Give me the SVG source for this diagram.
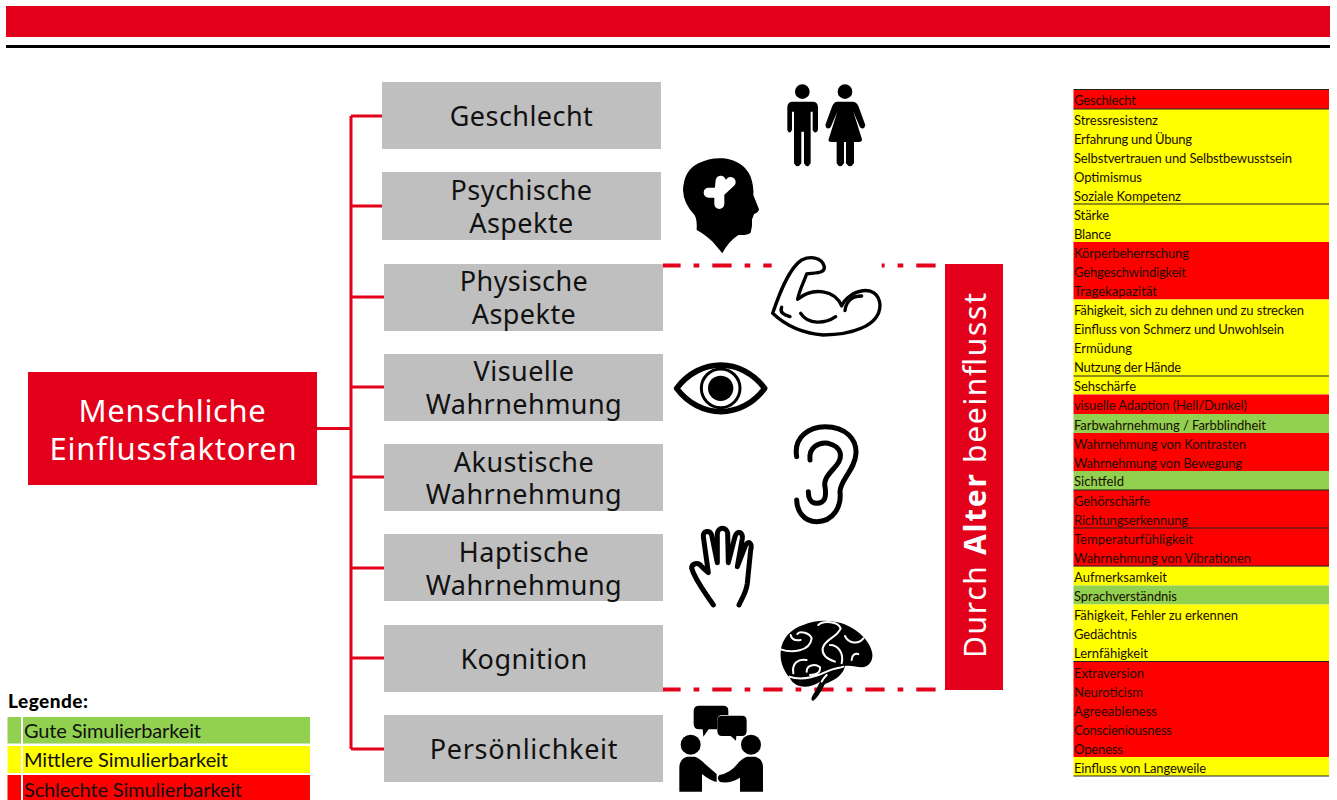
<svg xmlns="http://www.w3.org/2000/svg" width="1337" height="800" viewBox="0 0 1337 800">
<style>
.lbl{font-family:"Noto Sans","Open Sans",sans-serif;font-size:27px;fill:#111;text-anchor:middle;letter-spacing:.45px}
.box{fill:#bfbfbf}
.r{fill:#e2001a}
.conn{stroke:#e2001a;stroke-width:3;fill:none}
.dd{stroke:#e2001a;stroke-width:4;fill:none;stroke-dasharray:19.3 13 5.7 13}
.t{font-family:"Lato","Liberation Sans",sans-serif;font-size:13px;fill:#1a0d00}
.leg{font-family:"Lato","Open Sans",sans-serif;font-size:20px;fill:#111}
.ln{stroke:#222;stroke-width:1.2}
.ol{fill:none;stroke:#000;stroke-linecap:round;stroke-linejoin:round}
.sw{fill:none;stroke:#fff;stroke-width:6;stroke-linecap:round}
</style>
<rect width="1337" height="800" fill="#fff"/>
<rect x="6" y="6" width="1324" height="31" class="r"/>
<rect x="6" y="45" width="1324" height="3" fill="#000"/>

<g id="connectors">
<path class="conn" d="M317 428.500H351M351 116V749M351 116H383M351 206H383M351 297H385M351 387H385M351 477H385M351 568H385M351 658H385M351 749H385"/>
<path class="dd" stroke-dashoffset="1.700" d="M663 265.500H945"/>
<path class="dd" stroke-dashoffset="0.700" d="M662 689.500H945"/>
</g>

<g id="root"><rect x="28" y="372" width="289" height="113" class="r"/>
<text x="172.500" y="422" font-family="Noto Sans,Open Sans,sans-serif" font-size="31" fill="#fff" text-anchor="middle" letter-spacing=".6">Menschliche</text>
<text x="173.500" y="460" font-family="Noto Sans,Open Sans,sans-serif" font-size="31" fill="#fff" text-anchor="middle" letter-spacing=".8">Einflussfaktoren</text></g>

<g id="n-geschlecht"><rect class="box" x="382" y="82" width="279" height="67"/><text class="lbl" x="521.500" y="126" letter-spacing=".8">Geschlecht</text></g>
<g id="n-psychische"><rect class="box" x="382" y="172" width="279" height="68"/><text class="lbl" x="521.500" y="200">Psychische</text><text class="lbl" x="521.500" y="233">Aspekte</text></g>
<g id="n-physische"><rect class="box" x="384" y="264" width="279" height="67"/><text class="lbl" x="524" y="291">Physische</text><text class="lbl" x="524" y="324">Aspekte</text></g>
<g id="n-visuelle"><rect class="box" x="384" y="354" width="279" height="67"/><text class="lbl" x="524" y="381">Visuelle</text><text class="lbl" x="524" y="414">Wahrnehmung</text></g>
<g id="n-akustische"><rect class="box" x="384" y="444" width="279" height="67"/><text class="lbl" x="524" y="472">Akustische</text><text class="lbl" x="524" y="504">Wahrnehmung</text></g>
<g id="n-haptische"><rect class="box" x="384" y="534" width="279" height="67"/><text class="lbl" x="524" y="562">Haptische</text><text class="lbl" x="524" y="595">Wahrnehmung</text></g>
<g id="n-kognition"><rect class="box" x="384" y="625" width="279" height="67"/><text class="lbl" x="524" y="669">Kognition</text></g>
<g id="n-persoenlichkeit"><rect class="box" x="384" y="715" width="279" height="67"/><text class="lbl" x="524" y="759" style="letter-spacing:.7px">Persönlichkeit</text></g>

<g id="n-alter"><rect x="945" y="264" width="58" height="426" class="r"/>
<text transform="translate(986 658) rotate(-90)" font-family="Noto Sans,Open Sans,sans-serif" font-size="30" fill="#fff" textLength="365">Durch <tspan font-weight="700">Alter</tspan> beeinflusst</text></g>

<g id="icon-gender" transform="translate(660 70) scale(.3333)">
<circle cx="427" cy="65" r="22"/><circle cx="555" cy="65" r="22"/>
<path d="M398 95H458Q474 95 474 112V180Q466 195 458 180V125H452V280Q442 298 432 280V185H424V280Q412 298 402 280V125H396V180Q388 195 382 180V112Q382 95 398 95Z"/>
<path d="M532 95H578Q590 95 596 110L616 165Q612 182 600 172L580 125 606 208Q606 216 598 216H582V280Q570 298 558 280V216H552V280Q540 298 530 280V216H514Q504 216 506 208L532 125 512 172Q500 182 496 165L516 110Q522 95 532 95Z"/>
</g>

<g id="icon-head" transform="translate(660 70) scale(.3333)">
<path d="M187 550L158 515Q130 490 110 480Q112 450 104 436Q70 400 69 360Q72 300 115 280Q150 262 190 265Q250 272 272 320Q282 350 280 375L297 418Q296 428 282 432Q280 440 276 448Q278 470 272 488Q262 497 235 495Q205 515 187 550Z"/>
<path d="M146 368H178V402M178 368L182 332M178 368L212 336" fill="none" stroke="#fff" stroke-width="30" stroke-linecap="round" stroke-linejoin="round"/>
</g>

<g id="icon-arm" transform="translate(660 70) scale(.3333)">
<rect x="335" y="510" width="330" height="120" fill="#fff"/>
<path class="ol" stroke-width="10" style="fill:#fff" d="M338 730C355 680 385 595 425 570C450 558 485 560 493 590C495 610 470 608 440 612C430 640 418 660 413 688C460 650 525 660 545 708C565 660 655 635 660 705C660 770 570 795 490 795C420 790 375 765 338 730Z"/>
<path class="ol" stroke-width="10" d="M365 712C358 728 372 735 390 740M422 730C445 765 495 762 527 740M555 722C558 695 575 678 605 678"/>
</g>

<g id="icon-eye" transform="translate(660 350) scale(.3333)">
<path class="ol" stroke-width="17" d="M50 115C120 22 245 22 314 115C245 208 120 208 50 115Z"/>
<circle cx="182" cy="115" r="58" fill="none" stroke="#000" stroke-width="9"/>
<circle cx="182" cy="115" r="38"/>
</g>

<g id="icon-ear" transform="translate(660 350) scale(.3333)">
<path class="ol" stroke-width="15" d="M410 320C400 260 450 230 495 230C560 230 590 270 588 310C585 360 540 390 540 425C545 470 520 515 470 515C430 515 410 480 410 450"/>
<path class="ol" stroke-width="15" d="M450 330C445 290 480 275 505 280C545 290 550 320 530 345C510 370 490 385 495 410C500 440 495 460 470 460C450 460 445 440 445 425"/>
</g>

<g id="icon-hand" transform="translate(660 350) scale(.3333)">
<path class="ol" stroke-width="15" d="M160 765C130 720 105 690 95 655C95 640 115 635 125 650L145 668L130 560C128 540 150 540 155 555L172 638L172 550C175 530 200 530 203 550L205 638L225 560C230 540 250 545 247 565L232 650L257 585C265 570 278 580 272 600L262 700C258 730 245 745 237 765"/>
</g>

<g id="icon-brain" transform="translate(660 610) scale(.3333)">
<path d="M362 125C365 85 395 55 430 45C470 28 510 30 545 40C590 55 630 90 637 130C640 155 625 172 605 172C590 172 575 165 555 168C550 195 525 210 495 222C485 240 475 262 460 272C450 272 455 258 465 245C470 235 475 225 480 215C445 238 405 235 390 205C370 180 360 155 362 125Z"/>
<path class="sw" d="M362 118C395 130 450 125 455 85C450 70 420 60 412 72M392 75C395 90 410 92 422 90M475 45C490 30 535 35 542 55C530 85 495 85 488 115C485 140 510 150 525 155M510 105C535 105 552 130 545 160M555 78C565 100 595 105 610 85M575 150C575 135 585 130 595 132M440 150C415 145 395 160 400 190M440 185C440 165 465 160 480 172C482 190 465 195 450 195M388 200C430 215 480 195 500 185C520 175 535 175 550 170M485 215C490 205 495 200 500 195"/>
</g>

<g id="icon-people" transform="translate(660 610) scale(.3333)">
<path d="M118 287H190Q205 287 205 302V315H185Q172 316 172 330V358H146L130 380 128 358H118Q101 358 101 342V303Q101 287 118 287Z"/>
<path d="M186 317H246Q260 317 260 332V362Q260 378 246 378H229L228 392 212 378H186Q172 378 172 362V332Q172 317 186 317Z"/>
<circle cx="92" cy="404" r="30"/><circle cx="273" cy="404" r="30"/>
<path d="M82 440H104Q120 445 135 462L170 492V516Q150 512 126 492V545H58V470Q60 445 82 440Z"/>
<path d="M262 440H285Q308 445 309 470V545H240V503Q210 522 180 516Q168 505 178 495Q210 490 232 462Q245 445 262 440Z"/>
</g>

<g id="table">
<rect x="1073.500" y="90" width="255.500" height="19" fill="#ff0000"/>
<rect x="1073.500" y="109" width="255.500" height="133" fill="#ffff00"/>
<rect x="1073.500" y="242" width="255.500" height="57.500" fill="#ff0000"/>
<rect x="1073.500" y="299.500" width="255.500" height="95" fill="#ffff00"/>
<rect x="1073.500" y="394.500" width="255.500" height="19.500" fill="#ff0000"/>
<rect x="1073.500" y="414" width="255.500" height="19" fill="#92d050"/>
<rect x="1073.500" y="433" width="255.500" height="38" fill="#ff0000"/>
<rect x="1073.500" y="471" width="255.500" height="19" fill="#92d050"/>
<rect x="1073.500" y="490" width="255.500" height="76.500" fill="#ff0000"/>
<rect x="1073.500" y="566.500" width="255.500" height="19" fill="#ffff00"/>
<rect x="1073.500" y="585.500" width="255.500" height="19" fill="#92d050"/>
<rect x="1073.500" y="604.500" width="255.500" height="57" fill="#ffff00"/>
<rect x="1073.500" y="661.500" width="255.500" height="95.500" fill="#ff0000"/>
<rect x="1073.500" y="757" width="255.500" height="19" fill="#ffff00"/>
<path class="ln" d="M1073.500 89.500H1329M1073.500 109H1329M1073.500 204H1329M1073.500 376H1329M1073.500 490H1329M1073.500 528H1329M1073.500 566H1329M1073.500 661.500H1329M1073.500 776H1329"/>
<g class="t">
<text x="1074" y="105" textLength="62">Geschlecht</text>
<text x="1074" y="124.500" textLength="84">Stressresistenz</text>
<text x="1074" y="143.500" textLength="118">Erfahrung und Übung</text>
<text x="1074" y="162.500" textLength="218">Selbstvertrauen und Selbstbewusstsein</text>
<text x="1074" y="181.500" textLength="68">Optimismus</text>
<text x="1074" y="200.500" textLength="107">Soziale Kompetenz</text>
<text x="1074" y="219.500" textLength="35">Stärke</text>
<text x="1074" y="239" textLength="37">Blance</text>
<text x="1074" y="258" textLength="115">Körperbeherrschung</text>
<text x="1074" y="277" textLength="112">Gehgeschwindigkeit</text>
<text x="1074" y="296" textLength="83">Tragekapazität</text>
<text x="1074" y="315" textLength="230">Fähigkeit, sich zu dehnen und zu strecken</text>
<text x="1074" y="334" textLength="210">Einfluss von Schmerz und Unwohlsein</text>
<text x="1074" y="353" textLength="58">Ermüdung</text>
<text x="1074" y="372" textLength="107">Nutzung der Hände</text>
<text x="1074" y="391" textLength="62">Sehschärfe</text>
<text x="1074" y="410" textLength="173">visuelle Adaption (Hell/Dunkel)</text>
<text x="1074" y="429.500" textLength="192">Farbwahrnehmung / Farbblindheit</text>
<text x="1074" y="448.500" textLength="172">Wahrnehmung von Kontrasten</text>
<text x="1074" y="467.500" textLength="168">Wahrnehmung von Bewegung</text>
<text x="1074" y="486" textLength="50">Sichtfeld</text>
<text x="1074" y="505.500" textLength="76">Gehörschärfe</text>
<text x="1074" y="524.500" textLength="114">Richtungserkennung</text>
<text x="1074" y="544" textLength="119">Temperaturfühligkeit</text>
<text x="1074" y="563" textLength="177">Wahrnehmung von Vibrationen</text>
<text x="1074" y="582" textLength="93">Aufmerksamkeit</text>
<text x="1074" y="601" textLength="103">Sprachverständnis</text>
<text x="1074" y="620" textLength="164">Fähigkeit, Fehler zu erkennen</text>
<text x="1074" y="639" textLength="63">Gedächtnis</text>
<text x="1074" y="658" textLength="74">Lernfähigkeit</text>
<text x="1074" y="677.500" textLength="70">Extraversion</text>
<text x="1074" y="696.500" textLength="69">Neuroticism</text>
<text x="1074" y="715.500" textLength="83">Agreeableness</text>
<text x="1074" y="734.500" textLength="98">Conscieniousness</text>
<text x="1074" y="753.500" textLength="49">Openess</text>
<text x="1074" y="772.500" textLength="132">Einfluss von Langeweile</text>
</g>
</g>

<g id="legend">
<text x="8" y="708" font-family="Lato,sans-serif" font-size="19" font-weight="900" fill="#000" textLength="80">Legende:</text>
<rect x="7.500" y="717" width="13.500" height="26.500" fill="#92d050"/><rect x="23" y="717" width="287" height="26.500" fill="#92d050"/>
<rect x="7.500" y="746" width="13.500" height="27" fill="#ffff00"/><rect x="23" y="746" width="287" height="27" fill="#ffff00"/>
<rect x="7.500" y="775" width="13.500" height="25" fill="#ff0000"/><rect x="23" y="775" width="287" height="25" fill="#ff0000"/>
<text class="leg" x="24" y="738" textLength="177">Gute Simulierbarkeit</text>
<text class="leg" x="24" y="767" textLength="204">Mittlere Simulierbarkeit</text>
<text class="leg" x="24" y="796.500" textLength="218">Schlechte Simulierbarkeit</text>
</g>
</svg>
